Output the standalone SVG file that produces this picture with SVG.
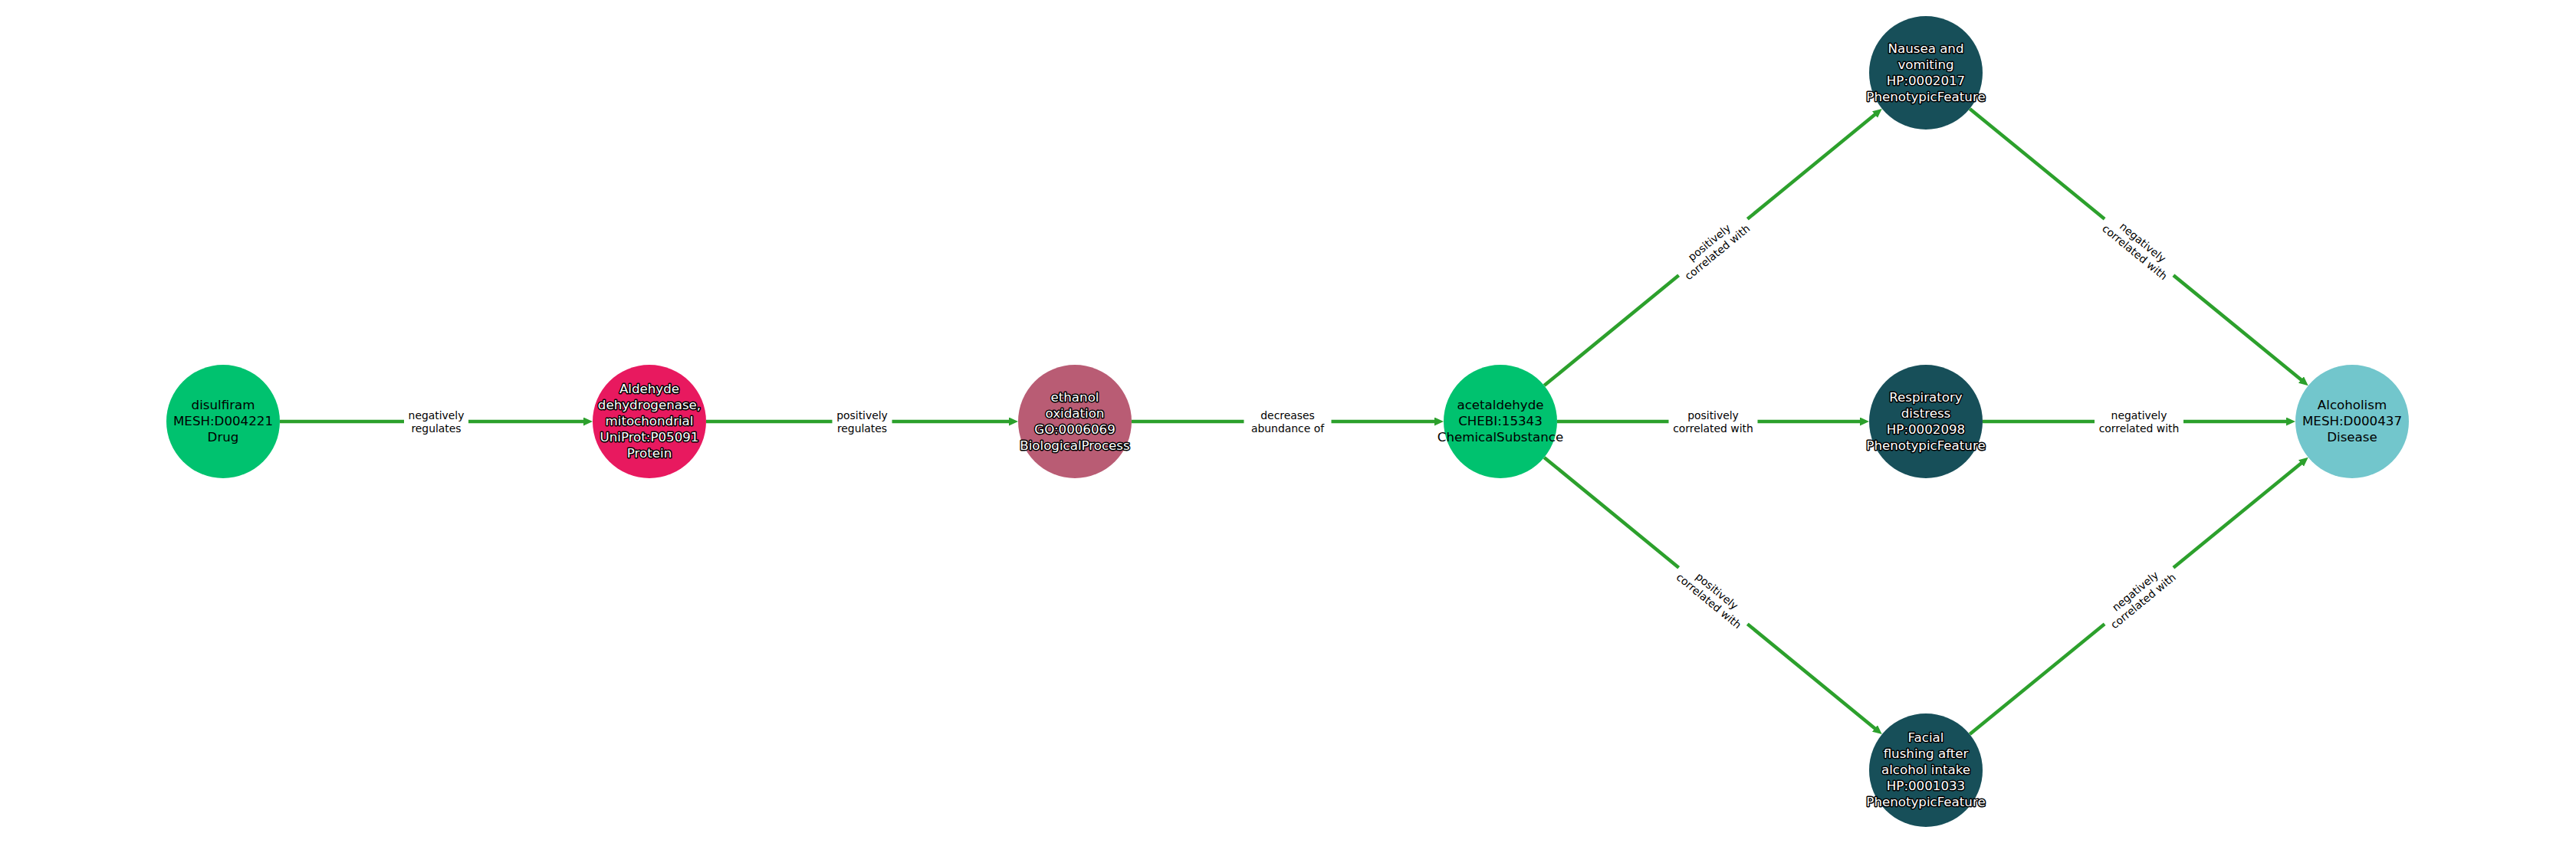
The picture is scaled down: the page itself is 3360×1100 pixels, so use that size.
<svg xmlns="http://www.w3.org/2000/svg" width="3360" height="1100" viewBox="0 0 3360 1100">
<style>
.bg{fill:#ffffff}
.edge{stroke:#2ca02c;stroke-width:4.5;fill:none}
.lbg{fill:#ffffff;stroke:none}
.elab{font-family:"DejaVu Sans",sans-serif;font-size:13.9px;fill:#000000;text-anchor:middle}
.nlab{font-family:"DejaVu Sans",sans-serif;font-size:16.67px;text-anchor:middle}
.dark{fill:#000000}
.light{fill:#ffffff;stroke:#000000;stroke-width:3;stroke-linejoin:round;paint-order:stroke}
</style>
<defs>
<marker id="arr" markerUnits="userSpaceOnUse" markerWidth="14" markerHeight="12" refX="2" refY="5.5" orient="auto">
<path d="M0,0 L12,5.5 L0,11 z" fill="#2ca02c"/>
</marker>
</defs>
<rect class="bg" x="0" y="0" width="3360" height="1100"/>

<g id="edges">
<line class="edge" x1="365" y1="550" x2="763" y2="550" marker-end="url(#arr)"/>
<line class="edge" x1="921" y1="550" x2="1318" y2="550" marker-end="url(#arr)"/>
<line class="edge" x1="1476" y1="550" x2="1873" y2="550" marker-end="url(#arr)"/>
<line class="edge" x1="2031" y1="550" x2="2428" y2="550" marker-end="url(#arr)"/>
<line class="edge" x1="2586" y1="550" x2="2984" y2="550" marker-end="url(#arr)"/>
<line class="edge" x1="2014.2" y1="503.1" x2="2447.0" y2="148.3" marker-end="url(#arr)"/>
<line class="edge" x1="2569.3" y1="141.9" x2="3003.0" y2="496.8" marker-end="url(#arr)"/>
<line class="edge" x1="2014.2" y1="596.9" x2="2447.0" y2="951.7" marker-end="url(#arr)"/>
<line class="edge" x1="2569.3" y1="958.1" x2="3003.0" y2="603.2" marker-end="url(#arr)"/>

<g transform="translate(569,550)">
<rect class="lbg" x="-42" y="-19" width="84" height="38" rx="4"/>
<text class="elab"><tspan x="0" y="-3">negatively</tspan><tspan x="0" y="13.5">regulates</tspan></text>
</g>
<g transform="translate(1124.5,550)">
<rect class="lbg" x="-39" y="-19" width="78" height="38" rx="4"/>
<text class="elab"><tspan x="0" y="-3">positively</tspan><tspan x="0" y="13.5">regulates</tspan></text>
</g>
<g transform="translate(1679.5,550)">
<rect class="lbg" x="-57" y="-19" width="114" height="38" rx="4"/>
<text class="elab"><tspan x="0" y="-3">decreases</tspan><tspan x="0" y="13.5">abundance of</tspan></text>
</g>
<g transform="translate(2234.5,550)">
<rect class="lbg" x="-58" y="-19" width="116" height="38" rx="4"/>
<text class="elab"><tspan x="0" y="-3">positively</tspan><tspan x="0" y="13.5">correlated with</tspan></text>
</g>
<g transform="translate(2790,550)">
<rect class="lbg" x="-58" y="-19" width="116" height="38" rx="4"/>
<text class="elab"><tspan x="0" y="-3">negatively</tspan><tspan x="0" y="13.5">correlated with</tspan></text>
</g>
<g transform="translate(2234.5,322.5) rotate(-39.35)">
<rect class="lbg" x="-58" y="-19" width="116" height="38" rx="4"/>
<text class="elab"><tspan x="0" y="-3">positively</tspan><tspan x="0" y="13.5">correlated with</tspan></text>
</g>
<g transform="translate(2790,322.5) rotate(39.3)">
<rect class="lbg" x="-58" y="-19" width="116" height="38" rx="4"/>
<text class="elab"><tspan x="0" y="-3">negatively</tspan><tspan x="0" y="13.5">correlated with</tspan></text>
</g>
<g transform="translate(2234.5,777.5) rotate(39.35)">
<rect class="lbg" x="-58" y="-19" width="116" height="38" rx="4"/>
<text class="elab"><tspan x="0" y="-3">positively</tspan><tspan x="0" y="13.5">correlated with</tspan></text>
</g>
<g transform="translate(2790,777.5) rotate(-39.3)">
<rect class="lbg" x="-58" y="-19" width="116" height="38" rx="4"/>
<text class="elab"><tspan x="0" y="-3">negatively</tspan><tspan x="0" y="13.5">correlated with</tspan></text>
</g>
</g>

<g id="node-disulfiram">
<circle cx="291" cy="550" r="74" fill="#00c26f"/>
<text class="nlab dark"><tspan x="291" y="534">disulfiram</tspan><tspan x="291" y="555">MESH:D004221</tspan><tspan x="291" y="576">Drug</tspan></text>
</g>
<g id="node-aldh2">
<circle cx="847" cy="550" r="74" fill="#e8195f"/>
<text class="nlab light"><tspan x="847" y="513">Aldehyde</tspan><tspan x="847" y="534">dehydrogenase,</tspan><tspan x="847" y="555">mitochondrial</tspan><tspan x="847" y="576">UniProt:P05091</tspan><tspan x="847" y="597">Protein</tspan></text>
</g>
<g id="node-ethanol">
<circle cx="1402" cy="550" r="74" fill="#b95c74"/>
<text class="nlab light"><tspan x="1402" y="524">ethanol</tspan><tspan x="1402" y="545">oxidation</tspan><tspan x="1402" y="566">GO:0006069</tspan><tspan x="1402" y="587">BiologicalProcess</tspan></text>
</g>
<g id="node-acetaldehyde">
<circle cx="1957" cy="550" r="74" fill="#00c26f"/>
<text class="nlab dark"><tspan x="1957" y="534">acetaldehyde</tspan><tspan x="1957" y="555">CHEBI:15343</tspan><tspan x="1957" y="576">ChemicalSubstance</tspan></text>
</g>
<g id="node-nausea">
<circle cx="2512" cy="95" r="74" fill="#174f59"/>
<text class="nlab light"><tspan x="2512" y="69">Nausea and</tspan><tspan x="2512" y="90">vomiting</tspan><tspan x="2512" y="111">HP:0002017</tspan><tspan x="2512" y="132">PhenotypicFeature</tspan></text>
</g>
<g id="node-respiratory">
<circle cx="2512" cy="550" r="74" fill="#174f59"/>
<text class="nlab light"><tspan x="2512" y="524">Respiratory</tspan><tspan x="2512" y="545">distress</tspan><tspan x="2512" y="566">HP:0002098</tspan><tspan x="2512" y="587">PhenotypicFeature</tspan></text>
</g>
<g id="node-facial">
<circle cx="2512" cy="1005" r="74" fill="#174f59"/>
<text class="nlab light"><tspan x="2512" y="968">Facial</tspan><tspan x="2512" y="989">flushing after</tspan><tspan x="2512" y="1010">alcohol intake</tspan><tspan x="2512" y="1031">HP:0001033</tspan><tspan x="2512" y="1052">PhenotypicFeature</tspan></text>
</g>
<g id="node-alcoholism">
<circle cx="3068" cy="550" r="74" fill="#72c6cc"/>
<text class="nlab dark"><tspan x="3068" y="534">Alcoholism</tspan><tspan x="3068" y="555">MESH:D000437</tspan><tspan x="3068" y="576">Disease</tspan></text>
</g>
</svg>
